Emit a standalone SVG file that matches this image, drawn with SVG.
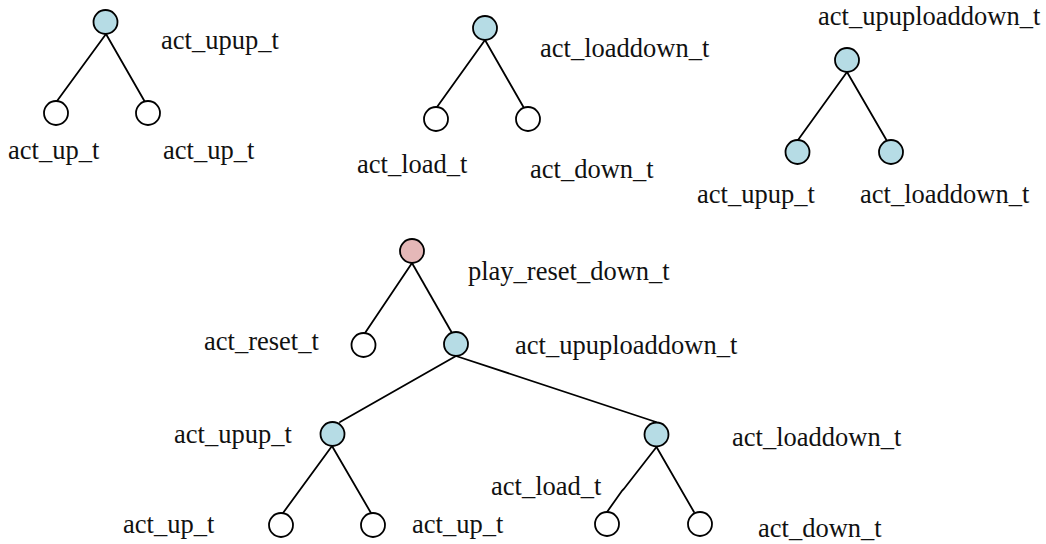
<svg xmlns="http://www.w3.org/2000/svg" width="1046" height="544" viewBox="0 0 1046 544">
  <style>
    .edge { stroke: #000; stroke-width: 1.8; fill: none; stroke-linecap: round; }
    .node { stroke: #000; stroke-width: 1.8; }
    .leaf { fill: #ffffff; }
    .inner { fill: #b6dce5; }
    .top { fill: #e5b8b8; }
    .lbl { font-family: "Liberation Serif", "Times New Roman", serif; font-size: 26.5px; fill: #111; }
  </style>
  <rect width="1046" height="544" fill="#ffffff"/>

  <!-- connectors -->
  <g id="connectors">
    <!-- tree: act_upup_t -->
    <line class="edge" x1="106" y1="34" x2="57" y2="101"/>
    <line class="edge" x1="106" y1="34" x2="145" y2="102"/>
    <!-- tree: act_loaddown_t -->
    <line class="edge" x1="485" y1="40" x2="437" y2="107"/>
    <line class="edge" x1="485" y1="40" x2="524" y2="108"/>
    <!-- tree: act_upuploaddown_t -->
    <line class="edge" x1="847" y1="72" x2="798" y2="140"/>
    <line class="edge" x1="847" y1="72" x2="887" y2="141"/>
    <!-- tree: play_reset_down_t -->
    <line class="edge" x1="412" y1="263" x2="365" y2="333"/>
    <line class="edge" x1="412" y1="263" x2="452" y2="333"/>
    <line class="edge" x1="456" y1="356" x2="340" y2="422"/>
    <line class="edge" x1="456" y1="356" x2="656" y2="422"/>
    <line class="edge" x1="332" y1="446" x2="283" y2="513"/>
    <line class="edge" x1="332" y1="446" x2="371" y2="513"/>
    <path class="edge" d="M656.5,447 L623.8,489 L622,490.8 L607,512"/>
    <line class="edge" x1="656.5" y1="447" x2="694" y2="512"/>
  </g>

  <!-- tree: act_upup_t -->
  <g id="t1-root"><circle class="node inner" cx="105.5" cy="22" r="12"/><text class="lbl" x="161" y="49">act_upup_t</text></g>
  <g id="t1-left"><circle class="node leaf" cx="56" cy="113" r="12"/><text class="lbl" x="8" y="159">act_up_t</text></g>
  <g id="t1-right"><circle class="node leaf" cx="148" cy="113" r="12"/><text class="lbl" x="163" y="159">act_up_t</text></g>

  <!-- tree: act_loaddown_t -->
  <g id="t2-root"><circle class="node inner" cx="485" cy="28" r="12"/><text class="lbl" x="540" y="57">act_loaddown_t</text></g>
  <g id="t2-left"><circle class="node leaf" cx="436" cy="119" r="12"/><text class="lbl" x="357" y="173">act_load_t</text></g>
  <g id="t2-right"><circle class="node leaf" cx="528" cy="119" r="12"/><text class="lbl" x="530" y="178">act_down_t</text></g>

  <!-- tree: act_upuploaddown_t -->
  <g id="t3-root"><circle class="node inner" cx="847" cy="60" r="12"/><text class="lbl" x="818" y="25">act_upuploaddown_t</text></g>
  <g id="t3-left"><circle class="node inner" cx="797.5" cy="152" r="12"/><text class="lbl" x="697" y="203">act_upup_t</text></g>
  <g id="t3-right"><circle class="node inner" cx="891" cy="152" r="12"/><text class="lbl" x="860" y="203">act_loaddown_t</text></g>

  <!-- tree: play_reset_down_t -->
  <g id="t4-root"><circle class="node top" cx="412" cy="251" r="12"/><text class="lbl" x="468" y="280">play_reset_down_t</text></g>
  <g id="t4-reset"><circle class="node leaf" cx="363.5" cy="345" r="12"/><text class="lbl" x="204" y="350">act_reset_t</text></g>
  <g id="t4-upuploaddown"><circle class="node inner" cx="456" cy="344" r="12"/><text class="lbl" x="515" y="354">act_upuploaddown_t</text></g>
  <g id="t4-upup"><circle class="node inner" cx="332.5" cy="434" r="12"/><text class="lbl" x="174" y="443">act_upup_t</text></g>
  <g id="t4-loaddown"><circle class="node inner" cx="656.5" cy="434.5" r="12"/><text class="lbl" x="732" y="446">act_loaddown_t</text></g>
  <g id="t4-up-a"><circle class="node leaf" cx="281" cy="525" r="12"/><text class="lbl" x="123" y="533">act_up_t</text></g>
  <g id="t4-up-b"><circle class="node leaf" cx="373" cy="525" r="12"/><text class="lbl" x="412" y="533">act_up_t</text></g>
  <g id="t4-load"><circle class="node leaf" cx="607" cy="524" r="12"/><text class="lbl" x="491" y="495">act_load_t</text></g>
  <g id="t4-down"><circle class="node leaf" cx="700" cy="524" r="12"/><text class="lbl" x="758" y="537">act_down_t</text></g>
</svg>
